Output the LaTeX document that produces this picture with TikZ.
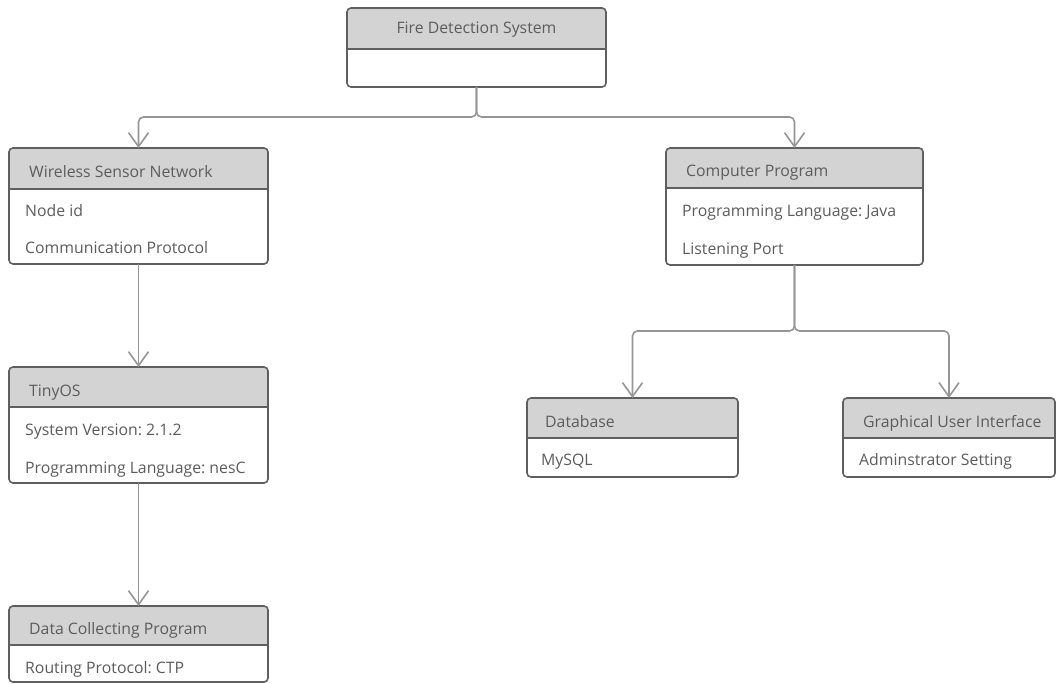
\documentclass[tikz,border=0pt]{standalone}
\usepackage{fontspec}
\setmainfont{Open Sans}
\frenchspacing
\usetikzlibrary{arrows.meta}
\definecolor{hdrgray}{RGB}{211,211,211}
\definecolor{edgegray}{RGB}{95,95,95}
\definecolor{conngray}{RGB}{150,150,150}
\definecolor{txtgray}{RGB}{92,92,92}
\tikzset{
  shell/.style={rectangle, inner sep=0pt, outer sep=0pt},
  boxline/.style={draw=edgegray, line width=1.6pt},
  conn/.style={draw=conngray, line width=1.6pt, rounded corners=5pt,
    -{Straight Barb[length=14pt,width=20pt,line width=1.6pt]}},
  htext/.style={inner sep=0pt, anchor=base west, text=txtgray, font=\fontsize{15.8}{18}\selectfont\frenchspacing},
  itext/.style={htext}
}
\newcommand\umlbox[6]{%
  \node[shell, minimum width=#4, minimum height=#5, anchor=north west] (#1) at (#2,#3) {};
  \begin{scope}
    \clip[rounded corners=4pt] (#1.north west) rectangle (#1.south east);
    \fill[hdrgray] (#1.north west) rectangle ([yshift=-#6]#1.north east);
  \end{scope}
  \draw[boxline] ([yshift=-#6]#1.north west) -- ([yshift=-#6]#1.north east);
  \draw[boxline, rounded corners=4pt] (#1.north west) rectangle (#1.south east);
}
\begin{document}
\begin{tikzpicture}[x=1pt,y=-1pt]
\useasboundingbox[fill=white] (0,0) rectangle (1057,684);

\umlbox{fds}{347}{8}{259}{79}{41}
\node[htext, anchor=base] (fdsh) at ([yshift=-25.5]fds.north) {Fire Detection System};

\umlbox{wsn}{9}{148}{259}{116}{41}
\node[htext] (wsnh) at ([xshift=20,yshift=-29.5]wsn.north west) {Wireless Sensor Network};
\node[itext] (wsn1) at ([xshift=16,yshift=-68.5]wsn.north west) {Node id};
\node[itext] (wsn2) at ([xshift=16,yshift=-106]wsn.north west) {Communication Protocol};

\umlbox{tos}{9}{367}{259}{116}{40}
\node[htext] (tosh) at ([xshift=20,yshift=-29.5]tos.north west) {TinyOS};
\node[itext] (tos1) at ([xshift=16,yshift=-68.5]tos.north west) {System Version: 2.1.2};
\node[itext] (tos2) at ([xshift=16,yshift=-106]tos.north west) {Programming Language: nesC};

\umlbox{dcp}{9}{606}{259}{76}{39}
\node[htext] (dcph) at ([xshift=20,yshift=-28.5]dcp.north west) {Data Collecting Program};
\node[itext] (dcp1) at ([xshift=16,yshift=-67]dcp.north west) {Routing Protocol: CTP};

\umlbox{cp}{666}{148}{257}{117}{40}
\node[htext] (cph) at ([xshift=20,yshift=-29]cp.north west) {Computer Program};
\node[itext] (cp1) at ([xshift=16,yshift=-69]cp.north west) {Programming Language: Java};
\node[itext] (cp2) at ([xshift=16,yshift=-107]cp.north west) {Listening Port};

\umlbox{db}{527}{398}{211}{79}{40}
\node[htext] (dbh) at ([xshift=18,yshift=-29.5]db.north west) {Database};
\node[itext] (db1) at ([xshift=14,yshift=-67.5]db.north west) {MySQL};

\umlbox{gui}{843}{398}{212}{79}{40}
\node[htext] (guih) at ([xshift=20,yshift=-29.5]gui.north west) {Graphical User Interface};
\node[itext] (gui1) at ([xshift=16,yshift=-67.5]gui.north west) {Adminstrator Setting};

\draw[conn] (fds.south) -- ++(0,30) -| (wsn.north);
\draw[conn] (fds.south) -- ++(0,30) -| (cp.north);
\draw[conn] (wsn.south) -- (tos.north);
\draw[conn] (tos.south) -- (dcp.north);
\draw[conn] (cp.south) -- ++(0,66) -| (db.north);
\draw[conn] (cp.south) -- ++(0,66) -| (gui.north);
\end{tikzpicture}
\end{document}
